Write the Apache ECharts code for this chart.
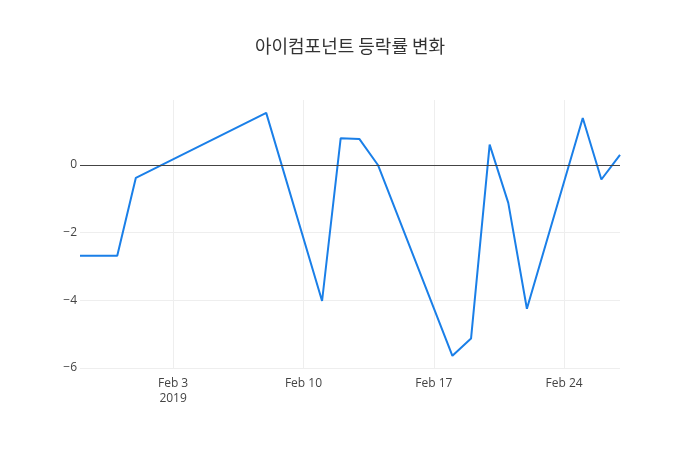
<!DOCTYPE html>
<html>
<head>
<meta charset="utf-8">
<script src="https://cdn.jsdelivr.net/npm/echarts@6/dist/echarts.min.js"></script>
<style>
  html, body { margin: 0; padding: 0; background: #fff; }
  #main { width: 700px; height: 450px; }
</style>
</head>
<body>
<div id="main"></div>
<script>
// 날짜별 등락률 (%)
var dates = ['2019-01-29', '2019-01-31', '2019-02-01', '2019-02-08', '2019-02-11',
             '2019-02-12', '2019-02-13', '2019-02-14', '2019-02-18', '2019-02-19',
             '2019-02-20', '2019-02-21', '2019-02-22', '2019-02-25', '2019-02-26',
             '2019-02-27'];
var rates = [-2.68, -2.68, -0.38, 1.54, -4.02,
             0.79, 0.77, 0.0, -5.64, -5.13,
             0.6, -1.12, -4.25, 1.39, -0.43,
             0.3];
var xTickDates = ['2019-02-03', '2019-02-10', '2019-02-17', '2019-02-24'];
var xTickLabels = ['Feb 3\n2019', 'Feb 10', 'Feb 17', 'Feb 24'];
var yTicks = [-6, -4, -2, 0];

function toTime(s) {
  var p = s.split('-');
  return new Date(+p[0], +p[1] - 1, +p[2]).getTime();
}

var xTickTimes = xTickDates.map(toTime);
var seriesData = dates.map(function (d, i) { return [toTime(d), rates[i]]; });

var mychart = echarts.init(document.getElementById('main'));
mychart.setOption({
  animation: false,
  title: {
    text: '아이컴포넌트 등락률 변화',
    left: 'center',
    top: 32,
    textStyle: {
      fontFamily: '"Noto Sans CJK KR", "Open Sans", sans-serif',
      fontSize: 18,
      fontWeight: 'normal',
      color: '#333'
    }
  },
  grid: { left: 80, right: 80, top: 100, bottom: 82 },
  xAxis: {
    type: 'value',
    min: toTime(dates[0]),
    max: toTime(dates[dates.length - 1]),
    axisLine: { show: false },
    axisTick: { show: false, customValues: xTickTimes },
    splitLine: { show: true, lineStyle: { color: '#eee', width: 1 } },
    axisLabel: {
      customValues: xTickTimes,
      margin: 8,
      color: '#444',
      fontSize: 12,
      lineHeight: 15,
      fontFamily: '"Open Sans", sans-serif',
      formatter: function (v) {
        var i = xTickTimes.indexOf(v);
        return i >= 0 ? xTickLabels[i] : '';
      }
    }
  },
  yAxis: {
    type: 'value',
    min: -6,
    max: 1.92,
    axisLine: { show: false },
    axisTick: { show: false, customValues: yTicks },
    splitLine: { show: true, lineStyle: { color: '#eee', width: 1 } },
    axisLabel: {
      customValues: yTicks,
      margin: 3,
      color: '#444',
      fontSize: 12,
      fontFamily: '"Open Sans", sans-serif',
      formatter: function (v) { return String(v).replace('-', '\u2212'); }
    }
  },
  series: [{
    name: '등락률',
    type: 'line',
    data: seriesData,
    showSymbol: false,
    lineStyle: { color: '#1a7fe8', width: 2 },
    itemStyle: { color: '#1a7fe8' },
    markLine: {
      silent: true,
      symbol: 'none',
      label: { show: false },
      lineStyle: { color: '#444', type: 'solid', width: 1 },
      data: [{ yAxis: 0 }]
    },
    z: 3
  }]
});
</script>
</body>
</html>
